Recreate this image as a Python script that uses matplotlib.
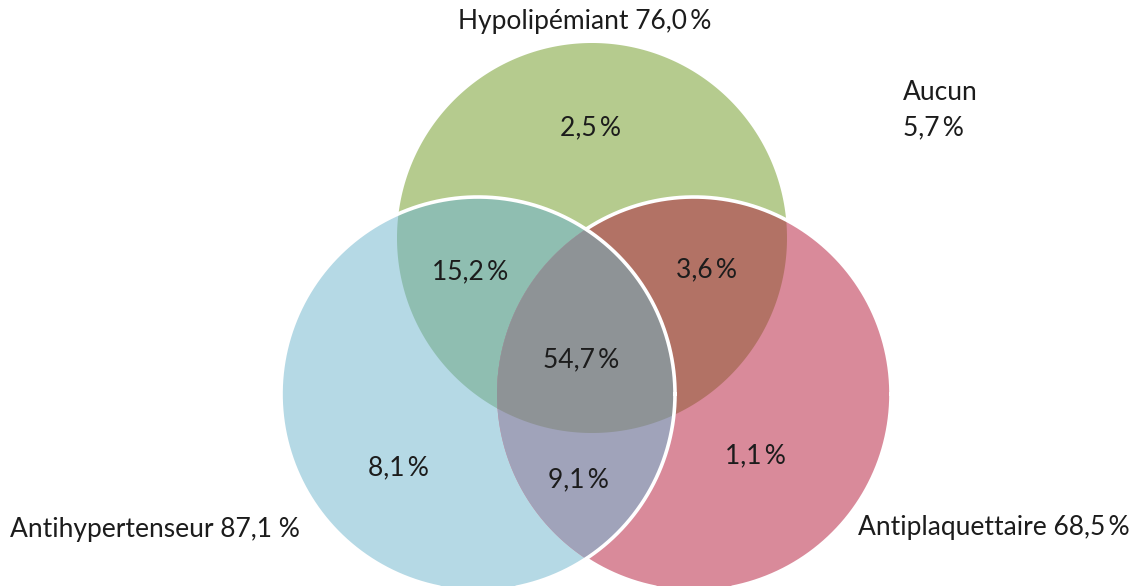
import numpy as np
import matplotlib
matplotlib.use("Agg")
import matplotlib.pyplot as plt
from matplotlib.patches import Polygon

plt.rcParams['font.family'] = ['Lato', 'DejaVu Sans']

# sets and their totals
set_names = ["Hypolipémiant", "Antihypertenseur", "Antiplaquettaire"]
set_totals = ["76,0", "87,1", "68,5"]
none_label = "Aucun"
none_value = "5,7"

# region values (only the sets in the key)
region_keys = ["H", "B", "P", "HB", "HP", "BP", "HBP"]
region_values = ["2,5", "8,1", "1,1", "15,2", "3,6", "9,1", "54,7"]
region_colors = ["#b5cb8e", "#b5d9e5", "#d98a9a", "#8fbeb1", "#b27265", "#a0a3ba", "#8e9396"]

# circle geometry in pixel space (x, y, radius)
circles = {"H": (592, 238, 195), "B": (478, 394, 197), "P": (694, 394, 197)}
label_pos = {"H": (590, 128), "B": (398, 468), "P": (755, 456), "HB": (470, 272),
             "HP": (706, 270), "BP": (578, 480), "HBP": (581, 360)}

TXT = "#1c1c1c"
PCT = "\u2009%"


def circle_pts(c, n=400):
    x, y, r = c
    t = np.linspace(0, 2 * np.pi, n, endpoint=False)
    return np.column_stack([x + r * np.cos(t), y + r * np.sin(t)])


def clip(subject, clipper):
    # Sutherland-Hodgman, clipper convex
    out = list(subject)
    m = len(clipper)
    # orientation of clipper
    area = 0.5 * np.sum(clipper[:, 0] * np.roll(clipper[:, 1], -1) - np.roll(clipper[:, 0], -1) * clipper[:, 1])
    sgn = 1 if area > 0 else -1

    def inside(p, a, b):
        return sgn * ((b[0] - a[0]) * (p[1] - a[1]) - (b[1] - a[1]) * (p[0] - a[0])) >= 0

    def inter(p, q, a, b):
        x1, y1 = p; x2, y2 = q; x3, y3 = a; x4, y4 = b
        d = (x1 - x2) * (y3 - y4) - (y1 - y2) * (x3 - x4)
        t = ((x1 - x3) * (y3 - y4) - (y1 - y3) * (x3 - x4)) / d
        return (x1 + t * (x2 - x1), y1 + t * (y2 - y1))

    for i in range(m):
        a, b = clipper[i], clipper[(i + 1) % m]
        inp = out
        out = []
        if not inp:
            break
        s = inp[-1]
        for e in inp:
            if inside(e, a, b):
                if not inside(s, a, b):
                    out.append(inter(s, e, a, b))
                out.append(e)
            elif inside(s, a, b):
                out.append(inter(s, e, a, b))
            s = e
    return np.array(out)


fig = plt.figure(figsize=(11.36, 5.86), dpi=100)
ax = fig.add_axes([0, 0, 1, 1])
ax.set_xlim(0, 1136)
ax.set_ylim(586, 0)
ax.set_aspect('equal')
ax.axis('off')

pts = {k: circle_pts(v) for k, v in circles.items()}

for key, color in zip(region_keys, region_colors):
    poly = pts[key[0]]
    for other in key[1:]:
        poly = clip(poly, pts[other])
    ax.add_patch(Polygon(poly, closed=True, facecolor=color, edgecolor='none', zorder=1 + len(key)))

# white outlines: Antiplaquettaire edge outside the blue circle, blue circle full edge
bx, by, br = circles["B"]
pp = circle_pts(circles["P"], 1200)
pp = np.vstack([pp, pp[:1]])
inside_b = (pp[:, 0] - bx) ** 2 + (pp[:, 1] - by) ** 2 < br ** 2
pp_line = pp.copy()
pp_line[inside_b] = np.nan
ax.plot(pp_line[:, 0], pp_line[:, 1], color='white', lw=2.6, zorder=6)
bb = circle_pts(circles["B"], 1200)
bb = np.vstack([bb, bb[:1]])
ax.plot(bb[:, 0], bb[:, 1], color='white', lw=2.6, zorder=7)

FS = 19
for key, val in zip(region_keys, region_values):
    x, y = label_pos[key]
    ax.text(x, y, val + PCT, ha='center', va='center', fontsize=FS, color=TXT, zorder=10)

ax.text(585, 22, f"{set_names[0]} {set_totals[0]}{PCT}", ha='center', va='center', fontsize=FS, color=TXT)
ax.text(10, 530, f"{set_names[1]} {set_totals[1]} %", ha='left', va='center', fontsize=FS, color=TXT)
ax.text(1130, 527, f"{set_names[2]} {set_totals[2]}{PCT}", ha='right', va='center', fontsize=FS, color=TXT)
ax.text(903, 93, none_label, ha='left', va='center', fontsize=FS, color=TXT)
ax.text(903, 128, none_value + PCT, ha='left', va='center', fontsize=FS, color=TXT)

fig.savefig("out.png", dpi=100, facecolor='white')
